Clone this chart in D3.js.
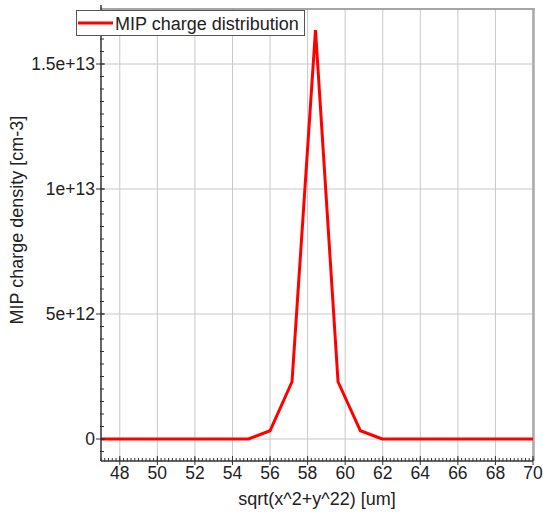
<!DOCTYPE html>
<html><head><meta charset="utf-8">
<script src="https://cdn.jsdelivr.net/npm/d3@7"></script>
<style>body{margin:0;background:#fff}svg{display:block}text{font-family:"Liberation Sans",Arial,sans-serif;fill:#222}</style>
</head><body>
<script>
const xValues = [46.52,47.71,48.90,50.09,51.28,52.47,53.66,54.85,56.00,57.17,58.42,59.62,60.81,61.97,63.18,64.37,65.56,66.75,67.94,69.13,70.32];
const yValues = [0,0,0,0,0,0,0,0,0.33e12,2.29e12,16.36e12,2.29e12,0.33e12,0,0,0,0,0,0,0,0];
const xTicks = [48,50,52,54,56,58,60,62,64,66,68,70];
const yTicks = [0,5e12,1e13,1.5e13];
const yTickLabels = ["0","5e+12","1e+13","1.5e+13"];
const seriesName = "MIP charge distribution";
const xTitle = "sqrt(x^2+y^22) [um]";
const yTitle = "MIP charge density [cm-3]";

const W=543,H=512, L=101, R=533, T=9, B=461;
const svg=d3.select("body").append("svg").attr("width",W).attr("height",H);
const x=d3.scaleLinear().domain([47,70]).range([L,R]);
const y=d3.scaleLinear().domain([-0.88e12,17.2e12]).range([B,T]);

// grid
svg.append("g").selectAll("line").data(xTicks).join("line")
 .attr("x1",d=>x(d)).attr("x2",d=>x(d)).attr("y1",T).attr("y2",B)
 .attr("stroke","#c8c8c8").attr("stroke-width",1);
svg.append("g").selectAll("line").data(yTicks).join("line")
 .attr("x1",L).attr("x2",R).attr("y1",d=>y(d)).attr("y2",d=>y(d))
 .attr("stroke","#c8c8c8").attr("stroke-width",1);

// borders
svg.append("line").attr("x1",L).attr("x2",R+2).attr("y1",T).attr("y2",T).attr("stroke","#888").attr("stroke-width",1.5);
svg.append("line").attr("x1",R+0.5).attr("x2",R+0.5).attr("y1",T).attr("y2",B).attr("stroke","#aaa").attr("stroke-width",2.5);

// data line
svg.append("clipPath").attr("id","clip").append("rect").attr("x",L).attr("y",T).attr("width",R-L).attr("height",B-T);
const pts=xValues.map((v,i)=>[v,yValues[i]]);
svg.append("path").datum(pts).attr("clip-path","url(#clip)")
 .attr("d",d3.line().x(d=>x(d[0])).y(d=>y(d[1])))
 .attr("fill","none").attr("stroke","#ff0000").attr("stroke-width",3).attr("stroke-linejoin","miter");

// x axis
const gx=svg.append("g");
gx.append("line").attr("x1",L).attr("x2",R).attr("y1",B).attr("y2",B).attr("stroke","#333").attr("stroke-width",1.5);
const xMinor=d3.range(47,70.001,0.2);
gx.selectAll("line.mn").data(xMinor).join("line").attr("class","mn")
 .attr("x1",d=>x(d)).attr("x2",d=>x(d)).attr("y1",B-3).attr("y2",B).attr("stroke","#333").attr("stroke-width",1);
gx.selectAll("line.mj").data(xTicks).join("line").attr("class","mj")
 .attr("x1",d=>x(d)).attr("x2",d=>x(d)).attr("y1",B-5).attr("y2",B+4).attr("stroke","#333").attr("stroke-width",1);
gx.selectAll("text").data(xTicks).join("text")
 .attr("x",d=>x(d)).attr("y",B+18).attr("text-anchor","middle").attr("font-size",17.5).text(d=>d);
svg.append("text").attr("x",(L+R)/2).attr("y",505).attr("text-anchor","middle").attr("font-size",18).text(xTitle);

// y axis
const gy=svg.append("g");
gy.append("line").attr("x1",L).attr("x2",L).attr("y1",T-4).attr("y2",B).attr("stroke","#333").attr("stroke-width",1.5);
const yMinor=d3.range(-5e11,17.2e12,5e11);
gy.selectAll("line.mn").data(yMinor).join("line").attr("class","mn")
 .attr("x1",L-1).attr("x2",L+3).attr("y1",d=>y(d)).attr("y2",d=>y(d)).attr("stroke","#333").attr("stroke-width",1);
gy.selectAll("line.mj").data(yTicks).join("line").attr("class","mj")
 .attr("x1",L-5).attr("x2",L+4).attr("y1",d=>y(d)).attr("y2",d=>y(d)).attr("stroke","#333").attr("stroke-width",1);
gy.selectAll("text").data(yTicks).join("text")
 .attr("x",L-6).attr("y",d=>y(d)+6).attr("text-anchor","end").attr("font-size",17.5).text((d,i)=>yTickLabels[i]);
svg.append("text").attr("transform","translate(23,220) rotate(-90)").attr("text-anchor","middle").attr("font-size",18).text(yTitle);

// legend
const lg=svg.append("g");
lg.append("rect").attr("x",76.5).attr("y",10.5).attr("width",228).attr("height",25).attr("fill","#fff").attr("stroke","#555").attr("stroke-width",1);
lg.append("line").attr("x1",78).attr("x2",113).attr("y1",23).attr("y2",23).attr("stroke","#ff0000").attr("stroke-width",3);
lg.append("text").attr("x",115).attr("y",29.5).attr("font-size",18).text(seriesName);
</script>
</body></html>
